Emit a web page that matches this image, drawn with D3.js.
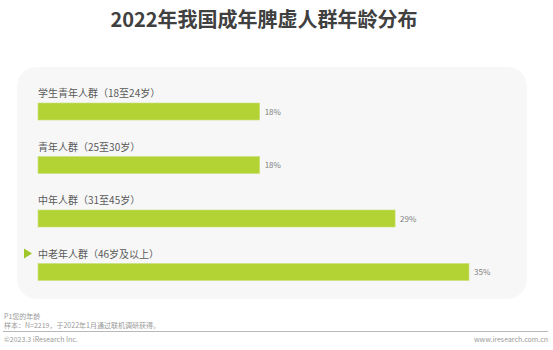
<!DOCTYPE html>
<html>
<head>
<meta charset="utf-8">
<script src="https://cdn.jsdelivr.net/npm/d3@7"></script>
<style>
  body { margin: 0; background: #fff; }
  svg { display: block; font-family: "Noto Sans CJK SC", "Noto Sans", sans-serif; }
</style>
</head>
<body>
<div id="chart"></div>
<script>
// Data
const groups = ["学生青年人群（18至24岁）", "青年人群（25至30岁）", "中年人群（31至45岁）", "中老年人群（46岁及以上）"];
const shares = [18, 18, 29, 35];
const highlightGroup = "中老年人群（46岁及以上）";

const width = 553, height = 350;

const svg = d3.select("#chart")
    .append("svg")
    .attr("width", width)
    .attr("height", height);

// Title
svg.append("text")
    .attr("x", 264)
    .attr("y", 27)
    .attr("text-anchor", "middle")
    .style("font-size", "20px")
    .style("font-weight", "bold")
    .attr("fill", "#404040")
    .text("2022年我国成年脾虚人群年龄分布");

// Panel background
svg.append("rect")
    .attr("x", 17)
    .attr("y", 67)
    .attr("width", 510)
    .attr("height", 232)
    .attr("rx", 20)
    .attr("fill", "#f7f7f7");

// Scales
const x = d3.scaleLinear().domain([0, 35]).range([38, 469]);
const y = d3.scaleBand().domain(groups).range([82, 296]).paddingInner(0).paddingOuter(0);
const barH = 17;
const barOffset = 21; // bar top within each band

const rows = svg.selectAll(".row")
    .data(groups)
    .enter().append("g")
    .attr("class", "row")
    .attr("transform", d => `translate(0,${y(d)})`);

rows.append("text")
    .attr("x", 38)
    .attr("y", 15)
    .style("font-size", "10px")
    .attr("fill", "#595959")
    .text(d => d);

rows.append("rect")
    .attr("x", x(0))
    .attr("y", barOffset)
    .attr("width", (d, i) => x(shares[i]) - x(0))
    .attr("height", barH)
    .attr("fill", "#b3d334")
    .attr("stroke", "#c9e07a")
    .attr("stroke-width", 0.6);

rows.append("text")
    .attr("x", (d, i) => x(shares[i]) + 5)
    .attr("y", barOffset + barH / 2 + 3)
    .style("font-size", "8px")
    .attr("fill", "#7f7f7f")
    .text((d, i) => shares[i] + "%");

// Highlight marker
rows.filter(d => d === highlightGroup)
    .append("path")
    .attr("d", "M24,6 L32,11 L24,16 Z")
    .attr("fill", "#9fc72b");

// Footer
svg.append("text")
    .attr("x", 4).attr("y", 319)
    .style("font-size", "7px").attr("fill", "#9a9a9a")
    .text("P1您的年龄");
svg.append("text")
    .attr("x", 4).attr("y", 328)
    .style("font-size", "7px").attr("fill", "#9a9a9a")
    .text("样本：N=2219，于2022年1月通过联机调研获得。");
svg.append("line")
    .attr("x1", 3).attr("x2", 548)
    .attr("y1", 331.5).attr("y2", 331.5)
    .attr("stroke", "#a6a6a6").attr("stroke-width", 0.8);
svg.append("text")
    .attr("x", 4).attr("y", 342)
    .style("font-size", "7px").attr("fill", "#9a9a9a")
    .text("©2023.3 iResearch Inc.");
svg.append("text")
    .attr("x", 548).attr("y", 342)
    .attr("text-anchor", "end")
    .style("font-size", "7px").attr("fill", "#9a9a9a")
    .text("www.iresearch.com.cn");
</script>
</body>
</html>
